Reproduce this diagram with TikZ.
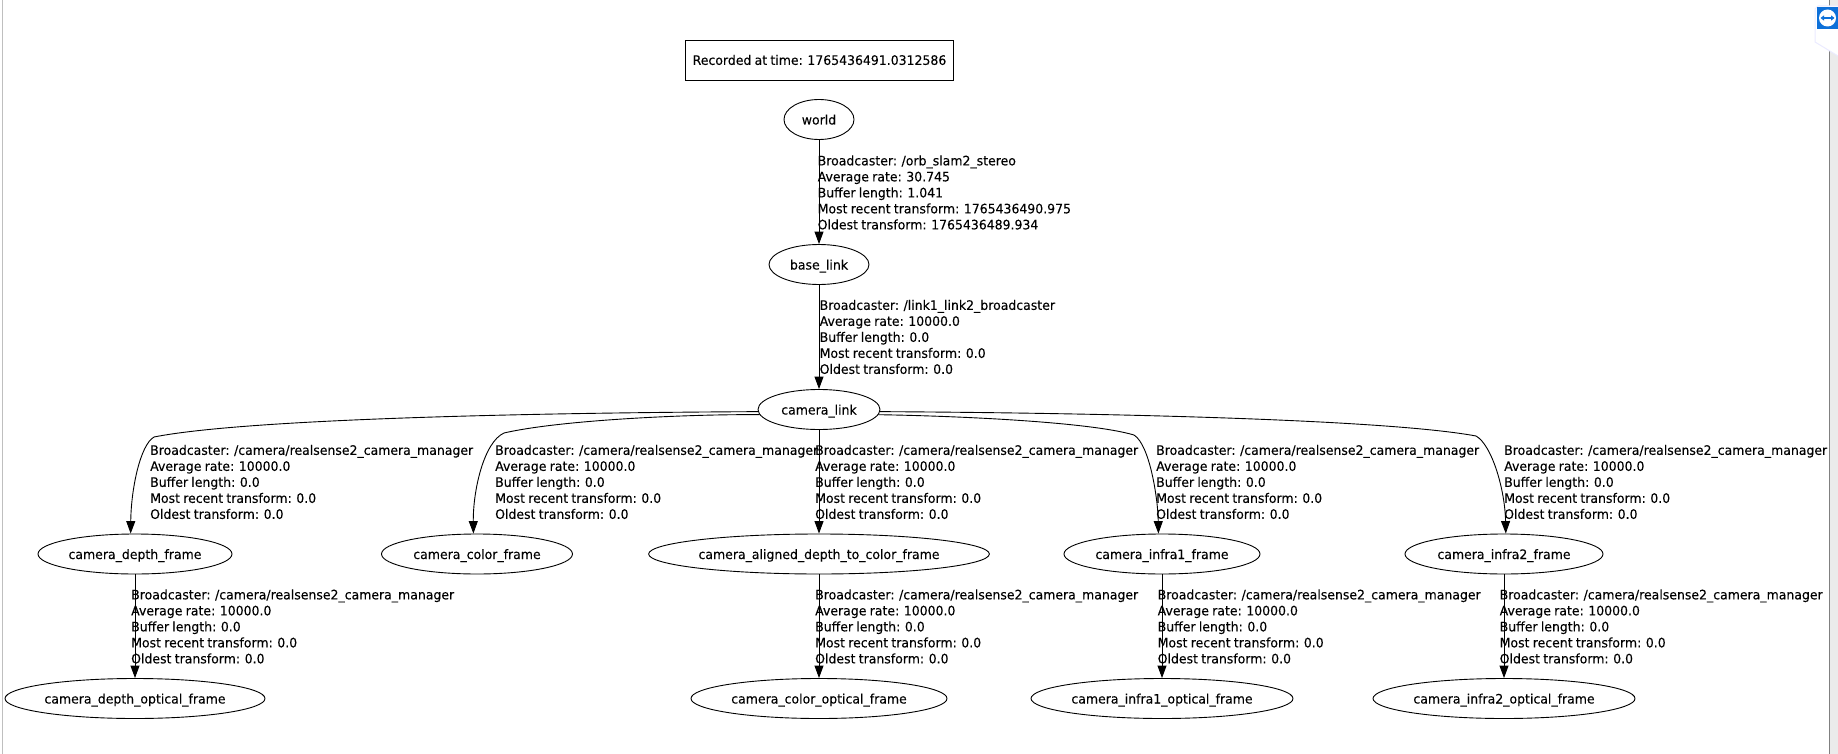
\documentclass[tikz,border=0pt]{standalone}
\usepackage{fontspec}
\setmainfont[FakeStretch=0.96, WordSpace=0.82, FakeBold=0.12]{DejaVu Sans}
\usetikzlibrary{shapes.geometric, arrows.meta}
\definecolor{panelgray}{rgb}{0.75,0.75,0.75}
\definecolor{tvblue}{rgb}{0.05,0.44,0.85}

\newcommand{\tfinfo}[4]{Broadcaster: #1\\Average rate: #2\\Buffer length: #3\\Most recent transform: #4\\Oldest transform: }
\newcommand{\manager}{/camera/realsense2\_camera\_manager}

\tikzset{
    tfframe/.style={draw, ellipse, inner sep=0pt, minimum height=40pt, text height=10pt, text depth=0pt, line width=0.9pt, font=\fontsize{13}{16}\selectfont},
    tfinfobox/.style={anchor=west, align=left, inner sep=0pt, font=\fontsize{13}{16}\selectfont},
    tfedge/.style={->, line width=0.9pt}
}

\begin{document}
\begin{tikzpicture}[x=1pt, y=-1pt, >={Triangle[length=12.5pt, width=9pt]}]
    \useasboundingbox (0, 0) rectangle (1838, 754);

    % Window edges and remote desktop tab
    \draw[panelgray, line width=1.6pt] (2.5, 0) -- (2.5, 754);
    \draw[gray, line width=1pt] (1829.5, 0) -- (1829.5, 754);
    \fill[black!8] (1830, 0) rectangle (1838, 754);
    \draw[blue!8, fill=white, line width=1pt] (1838, 6) -- (1818, 6) -- (1815, 9) -- (1815, 42) -- (1838, 56);
    \fill[tvblue] (1816.5, 7) rectangle (1838, 29);
    \fill[white] (1827.5, 18) circle (8.5);
    \draw[<->, >={Triangle[length=3.5pt, width=5pt]}, tvblue, line width=1.2pt] (1820.5, 18) -- (1834.5, 18);

    % Time stamp
    \node[draw, rectangle, inner sep=0pt, minimum width=268pt, minimum height=40pt, line width=0.9pt, font=\fontsize{13}{16}\selectfont] (stamp) at (819.5, 60) {Recorded at time: 1765436491.0312586};

    % Frames
    \node[tfframe, minimum width=70pt] (world) at (819, 119.5) {world};
    \node[tfframe, minimum width=100pt] (base_link) at (819, 264.5) {base\_link};
    \node[tfframe, minimum width=122pt] (camera_link) at (819, 409.5) {camera\_link};
    \node[tfframe, minimum width=194pt] (depth_frame) at (135, 554) {camera\_depth\_frame};
    \node[tfframe, minimum width=191pt] (color_frame) at (477, 554) {camera\_color\_frame};
    \node[tfframe, minimum width=340pt] (aligned_frame) at (819, 554) {camera\_aligned\_depth\_to\_color\_frame};
    \node[tfframe, minimum width=196pt] (infra1_frame) at (1162, 554) {camera\_infra1\_frame};
    \node[tfframe, minimum width=198pt] (infra2_frame) at (1504, 554) {camera\_infra2\_frame};
    \node[tfframe, minimum width=260pt] (depth_optical) at (135, 698.5) {camera\_depth\_optical\_frame};
    \node[tfframe, minimum width=256pt] (color_optical) at (819, 698.5) {camera\_color\_optical\_frame};
    \node[tfframe, minimum width=262pt] (infra1_optical) at (1162, 698.5) {camera\_infra1\_optical\_frame};
    \node[tfframe, minimum width=262pt] (infra2_optical) at (1504, 698.5) {camera\_infra2\_optical\_frame};

    % Straight transforms
    \draw[tfedge] (world) -- (base_link);
    \draw[tfedge] (base_link) -- (camera_link);
    \draw[tfedge] (camera_link) -- (aligned_frame);
    \draw[tfedge] (depth_frame) -- (depth_optical);
    \draw[tfedge] (aligned_frame) -- (color_optical);
    \draw[tfedge] (infra1_frame) -- (infra1_optical);
    \draw[tfedge] (infra2_frame) -- (infra2_optical);

    % Curved transforms
    \draw[tfedge] (camera_link.182) .. controls (500, 413) and (240, 420) .. (154, 437) .. controls (140, 445) and (131, 490) .. (depth_frame.102);
    \draw[tfedge] (camera_link.185) .. controls (690, 414) and (560, 420) .. (504, 433) .. controls (484, 442) and (473, 490) .. (color_frame.100);
    \draw[tfedge] (camera_link.355) .. controls (960, 416) and (1090, 422) .. (1134, 435) .. controls (1150, 445) and (1158, 500) .. (infra1_frame.100);
    \draw[tfedge] (camera_link.358) .. controls (1120, 413) and (1390, 420) .. (1476, 436) .. controls (1492, 445) and (1505, 490) .. (infra2_frame.85);

    % Transform details
    \node[tfinfobox] (world_info) at (817.5, 192.5) {Broadcaster: /orb\_slam2\_stereo\\Average rate: 30.745\\Buffer length: 1.041\\Most recent transform: 1765436490.975\\Oldest transform: 1765436489.934};
    \node[tfinfobox] (base_info) at (819.5, 337) {\tfinfo{/link1\_link2\_broadcaster}{10000.0}{0.0}{0.0}0.0};
    \node[tfinfobox] (depth_info) at (150, 482) {\tfinfo{\manager}{10000.0}{0.0}{0.0}0.0};
    \node[tfinfobox] (color_info) at (495, 482) {\tfinfo{\manager}{10000.0}{0.0}{0.0}0.0};
    \node[tfinfobox] (aligned_info) at (815, 482) {\tfinfo{\manager}{10000.0}{0.0}{0.0}0.0};
    \node[tfinfobox] (infra1_info) at (1156, 482) {\tfinfo{\manager}{10000.0}{0.0}{0.0}0.0};
    \node[tfinfobox] (infra2_info) at (1504, 482) {\tfinfo{\manager}{10000.0}{0.0}{0.0}0.0};
    \node[tfinfobox] (depth_opt_info) at (131, 626.5) {\tfinfo{\manager}{10000.0}{0.0}{0.0}0.0};
    \node[tfinfobox] (color_opt_info) at (815, 626.5) {\tfinfo{\manager}{10000.0}{0.0}{0.0}0.0};
    \node[tfinfobox] (infra1_opt_info) at (1157.5, 626.5) {\tfinfo{\manager}{10000.0}{0.0}{0.0}0.0};
    \node[tfinfobox] (infra2_opt_info) at (1499.5, 626.5) {\tfinfo{\manager}{10000.0}{0.0}{0.0}0.0};
\end{tikzpicture}
\end{document}
